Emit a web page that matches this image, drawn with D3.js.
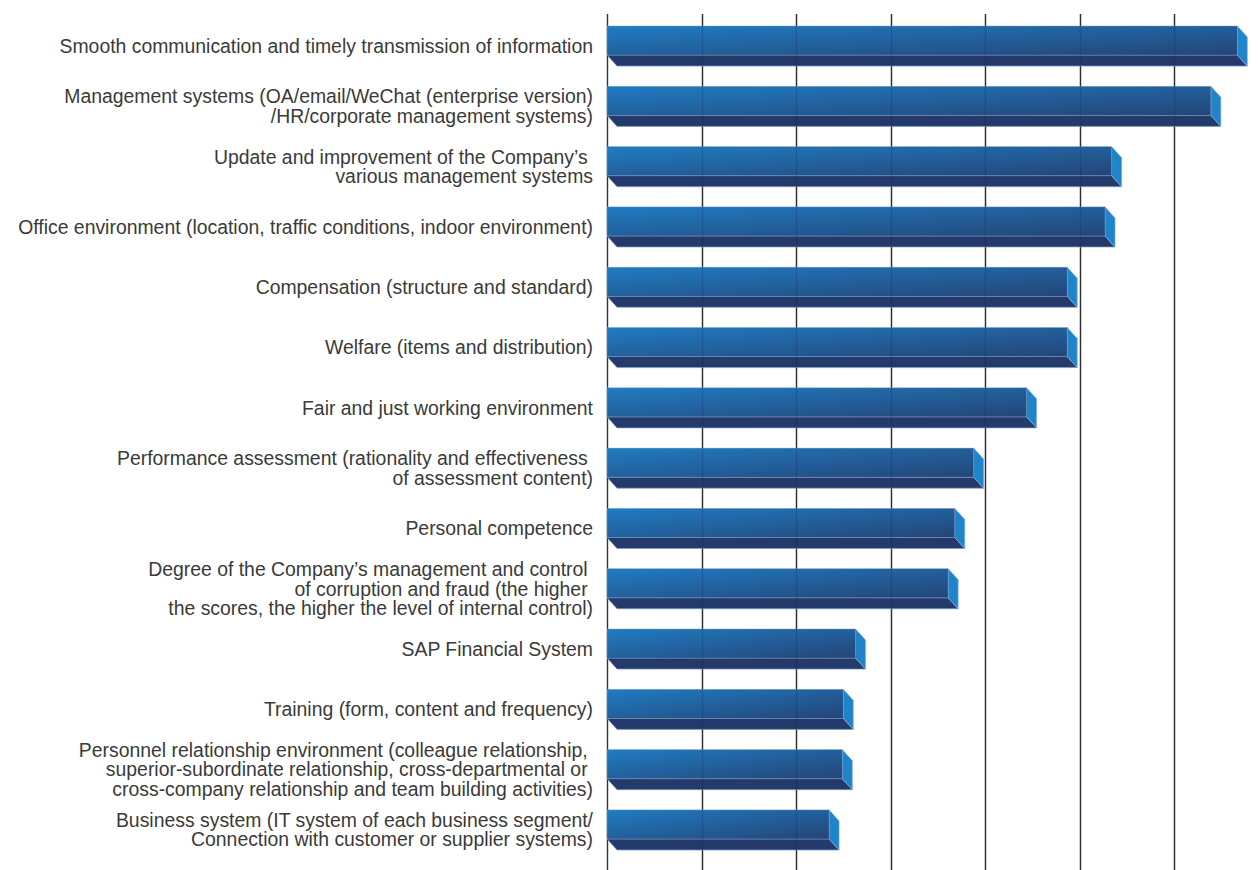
<!DOCTYPE html>
<html>
<head>
<meta charset="utf-8">
<script src="https://cdn.jsdelivr.net/npm/d3@7"></script>
<style>
  html, body { margin: 0; padding: 0; background: #ffffff; }
  svg { display: block; }
  .label { font-family: "Liberation Sans", Arial, sans-serif; font-size: 19.4px; fill: #3a3a3a; white-space: pre; }
</style>
</head>
<body>
<svg id="chart" width="1258" height="870"></svg>
<script>
// Survey items (each entry is a list of label lines) and their scores
const categories = [
  ["Smooth communication and timely transmission of information"],
  ["Management systems (OA/email/WeChat (enterprise version)", "/HR/corporate management systems)"],
  ["Update and improvement of the Company\u2019s ", "various management systems"],
  ["Office environment (location, traffic conditions, indoor environment)"],
  ["Compensation (structure and standard)"],
  ["Welfare (items and distribution)"],
  ["Fair and just working environment"],
  ["Performance assessment (rationality and effectiveness ", "of assessment content)"],
  ["Personal competence"],
  ["Degree of the Company\u2019s management and control ", "of corruption and fraud (the higher ", "the scores, the higher the level of internal control)"],
  ["SAP Financial System"],
  ["Training (form, content and frequency)"],
  ["Personnel relationship environment (colleague relationship, ", "superior-subordinate relationship, cross-departmental or ", "cross-company relationship and team building activities)"],
  ["Business system (IT system of each business segment/", "Connection with customer or supplier systems)"]
];
const scores = [6.67, 6.39, 5.34, 5.27, 4.87, 4.87, 4.44, 3.88, 3.68, 3.61, 2.63, 2.50, 2.49, 2.35];
const gridTicks = [0, 1, 2, 3, 4, 5, 6];

const svg = d3.select("#chart");
const data = categories.map((lines, i) => ({ id: i, lines, value: scores[i] }));

const x = d3.scaleLinear().domain([0, 6]).range([607, 1174]);
const y = d3.scaleBand().domain(data.map(d => d.id)).range([26, 850]).paddingInner(0.335).paddingOuter(0);

const band = y.bandwidth();
const frontH = band * 29 / 40;   // height of the front face
const depthY = band - frontH;    // vertical depth of the extrusion
const depthX = 10;               // horizontal depth of the extrusion

// gradient for the front faces
const defs = svg.append("defs");
const grad = defs.append("linearGradient")
  .attr("id", "frontGrad")
  .attr("x1", 0).attr("y1", 0).attr("x2", 1).attr("y2", 1);
grad.append("stop").attr("offset", "0%").attr("stop-color", "#1f7cc2");
grad.append("stop").attr("offset", "50%").attr("stop-color", "#22609c");
grad.append("stop").attr("offset", "100%").attr("stop-color", "#244577");

// vertical grid lines
const gridY0 = 14, gridY1 = 870;
svg.append("g").selectAll("line")
  .data(gridTicks)
  .join("line")
  .attr("x1", d => Math.round(x(d)) + 0.5)
  .attr("x2", d => Math.round(x(d)) + 0.5)
  .attr("y1", gridY0).attr("y2", gridY1)
  .attr("stroke", "#333333")
  .attr("stroke-width", 1.4);

// 3D bars
const bars = svg.append("g").selectAll("g.bar")
  .data(data)
  .join("g")
  .attr("class", "bar");

// bottom face
bars.append("polygon")
  .attr("points", d => {
    const x0 = x(0), x1 = x(d.value), yb = y(d.id) + frontH;
    return [[x0, yb], [x1, yb], [x1 + depthX, yb + depthY], [x0 + depthX, yb + depthY]].join(" ");
  })
  .attr("fill", "#243a6b")
  .attr("stroke", "#7f9dc6")
  .attr("stroke-width", 0.7)
  .attr("stroke-linejoin", "round");

// right side face
bars.append("polygon")
  .attr("points", d => {
    const x1 = x(d.value), yt = y(d.id);
    return [[x1, yt], [x1 + depthX, yt + depthY], [x1 + depthX, yt + frontH + depthY], [x1, yt + frontH]].join(" ");
  })
  .attr("fill", "#1f84c9")
  .attr("stroke", "#7fb0dc")
  .attr("stroke-width", 0.7)
  .attr("stroke-linejoin", "round");

// front face
bars.append("rect")
  .attr("x", x(0))
  .attr("y", d => y(d.id))
  .attr("width", d => x(d.value) - x(0))
  .attr("height", frontH)
  .attr("fill", "url(#frontGrad)")
  .attr("stroke", "#7f9dc6")
  .attr("stroke-opacity", 0.6)
  .attr("stroke-width", 0.7);

// faint grid lines showing through the bars
svg.append("g").selectAll("line")
  .data(gridTicks.filter(t => t > 0))
  .join("line")
  .attr("x1", d => Math.round(x(d)) + 0.5)
  .attr("x2", d => Math.round(x(d)) + 0.5)
  .attr("y1", gridY0).attr("y2", gridY1)
  .attr("stroke", "#0e1a33")
  .attr("stroke-opacity", 0.18)
  .attr("stroke-width", 1.3);

// category labels, right-aligned and centred on each bar
const fontSize = 19.4;
const lineH = 19.4;
const labels = svg.append("g").selectAll("text")
  .data(data)
  .join("text")
  .attr("class", "label")
  .attr("text-anchor", "end")
  .attr("x", 593)
  .attr("y", d => y(d.id) + band / 2 - (d.lines.length - 1) * lineH / 2 + fontSize * 0.35);

labels.selectAll("tspan")
  .data(d => d.lines)
  .join("tspan")
  .attr("x", 593)
  .attr("dy", (t, i) => i === 0 ? 0 : lineH)
  .text(t => t);
</script>
</body>
</html>
